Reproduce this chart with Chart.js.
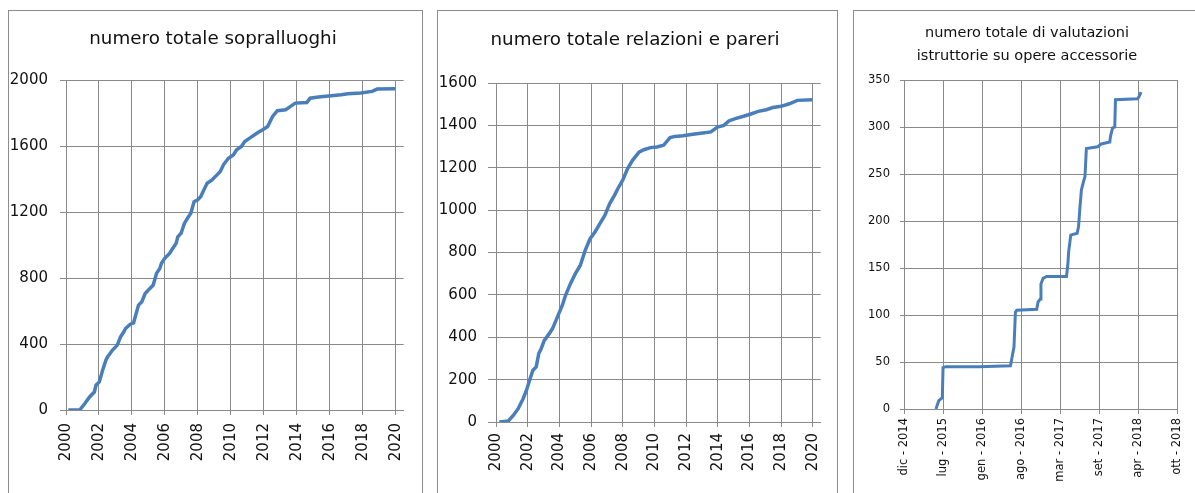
<!DOCTYPE html>
<html>
<head>
<meta charset="utf-8">
<script src="https://cdn.jsdelivr.net/npm/chart.js@4/dist/chart.umd.min.js"></script>
<style>
  body { margin: 0; background: #fff; width: 1195px; height: 493px; overflow: hidden; position: relative; }
  .box { position: absolute; border: 1px solid #8c8c8c; border-bottom: none; }
  canvas { position: absolute; }
</style>
</head>
<body>
<div class="box" style="left:8px;top:10px;width:413px;height:490px"></div>
<div class="box" style="left:437px;top:10px;width:399px;height:490px"></div>
<div class="box" style="left:853px;top:10px;width:350px;height:490px"></div>
<canvas id="c1" style="left:8px;top:10px" width="414" height="483"></canvas>
<canvas id="c2" style="left:437px;top:10px" width="400" height="483"></canvas>
<canvas id="c3" style="left:853px;top:10px" width="342" height="483"></canvas>
<script>
// numero totale sopralluoghi
const sopralluoghiAnni = [2000.14, 2000.83, 2001.13, 2001.43, 2001.72, 2001.82, 2002.02, 2002.22, 2002.42, 2002.52,
  2002.81, 2003.11, 2003.31, 2003.51, 2003.61, 2003.90, 2004.10, 2004.20, 2004.40, 2004.60, 2004.80, 2005.09,
  2005.29, 2005.49, 2005.69, 2005.79, 2005.99, 2006.28, 2006.48, 2006.68, 2006.78, 2006.98, 2007.18, 2007.37,
  2007.57, 2007.77, 2007.97, 2008.17, 2008.36, 2008.56, 2008.86, 2009.16, 2009.36, 2009.55, 2009.85, 2010.15,
  2010.35, 2010.64, 2010.84, 2011.14, 2011.44, 2011.64, 2011.93, 2012.23, 2012.53, 2012.82, 2013.32, 2013.62,
  2013.91, 2014.61, 2014.81, 2015.20, 2015.60, 2016.10, 2016.69, 2017.09, 2017.88, 2018.57, 2018.87, 2019.96];
const sopralluoghiTotale = [0, 0, 38, 79, 109, 150, 170, 241, 302, 322,
  362, 393, 443, 474, 494, 520, 528, 565, 636, 656, 706, 737,
  757, 828, 858, 889, 919, 949, 980, 1010, 1050, 1071, 1131, 1162,
  1192, 1263, 1273, 1293, 1334, 1374, 1395, 1425, 1445, 1486, 1526, 1546,
  1577, 1597, 1627, 1648, 1668, 1682, 1698, 1718, 1779, 1814, 1820, 1840,
  1860, 1864, 1890, 1896, 1900, 1905, 1911, 1917, 1921, 1931, 1945, 1947];

// numero totale relazioni e pareri
const relazioniAnni = [2000.21, 2000.78, 2001.09, 2001.40, 2001.71, 2001.92, 2002.12, 2002.33, 2002.54, 2002.70,
  2002.85, 2003.05, 2003.36, 2003.57, 2003.88, 2004.19, 2004.39, 2004.70, 2005.01, 2005.32, 2005.63, 2005.94,
  2006.25, 2006.56, 2006.87, 2007.18, 2007.48, 2007.69, 2008.00, 2008.31, 2008.62, 2009.03, 2009.34, 2009.75,
  2010.16, 2010.58, 2010.99, 2011.30, 2011.81, 2012.43, 2013.05, 2013.57, 2013.98, 2014.39, 2014.70, 2015.11,
  2015.63, 2016.14, 2016.56, 2017.07, 2017.48, 2018.00, 2018.52, 2019.03, 2019.96];
const relazioniTotale = [0, 5, 31, 63, 110, 149, 197, 244, 260, 323,
  346, 385, 417, 441, 496, 551, 598, 653, 700, 739, 810, 865,
  897, 936, 975, 1031, 1070, 1101, 1141, 1196, 1235, 1274, 1285, 1295,
  1298, 1306, 1342, 1348, 1351, 1358, 1364, 1369, 1392, 1400, 1421, 1432,
  1443, 1455, 1466, 1474, 1484, 1490, 1502, 1518, 1521];

const anniTicks = [2000, 2002, 2004, 2006, 2008, 2010, 2012, 2014, 2016, 2018, 2020];

// numero totale di valutazioni istruttorie su opere accessorie
const valutazioniData = [2015.42, 2015.46, 2015.51, 2015.52, 2015.56, 2016.03, 2016.47, 2016.49, 2016.52, 2016.54,
  2016.56, 2016.84, 2016.86, 2016.89, 2016.90, 2016.93, 2016.98, 2017.26, 2017.28, 2017.29, 2017.32, 2017.41,
  2017.43, 2017.45, 2017.47, 2017.50, 2017.52, 2017.54, 2017.70, 2017.75, 2017.87, 2017.88, 2017.91, 2017.94,
  2017.95, 2018.26, 2018.28, 2018.31];
const valutazioniTotale = [0, 9, 12, 44, 45, 45, 46, 54, 66, 103,
  105, 106, 114, 117, 133, 139, 141, 141, 155, 167, 185, 187,
  194, 215, 233, 242, 247, 277, 279, 282, 284, 290, 299, 300,
  329, 330, 332, 337];
const valutazioniTickPos = [2014.97, 2015.52, 2016.07, 2016.62, 2017.17, 2017.72, 2018.27, 2018.82];
const valutazioniTickLabels = ['dic - 2014', 'lug - 2015', 'gen - 2016', 'ago - 2016',
  'mar - 2017', 'set - 2017', 'apr - 2018', 'ott - 2018'];

const gridColor = '#8a8a8a';
const lineColor = '#4a7ebb';
const textColor = '#111';
const fontFamily = '"DejaVu Sans", Verdana, sans-serif';

// title drawn at a fixed centre, the built-in one centres on the whole box
const panelTitle = {
  id: 'panelTitle',
  afterDraw(chart, args, opts) {
    const ctx = chart.ctx;
    ctx.save();
    ctx.font = opts.size + 'px ' + fontFamily;
    ctx.fillStyle = textColor;
    ctx.textAlign = 'center';
    ctx.textBaseline = 'middle';
    opts.lines.forEach((line, i) => ctx.fillText(line, opts.x, opts.y + i * opts.gap));
    ctx.restore();
  },
};

function toPoints(xs, ys) {
  return xs.map((x, i) => ({ x: x, y: ys[i] }));
}

function makeChart(id, opt) {
  const ctx = document.getElementById(id);
  return new Chart(ctx, {
    type: 'line',
    data: {
      datasets: [{
        data: toPoints(opt.xs, opt.ys),
        borderColor: lineColor,
        borderWidth: opt.lineWidth,
        pointRadius: 0,
        tension: 0,
        fill: false,
      }],
    },
    plugins: [panelTitle],
    options: {
      responsive: false,
      animation: false,
      events: [],
      layout: { padding: { left: 0, right: opt.padRight, top: opt.padTop, bottom: 0 } },
      plugins: {
        legend: { display: false },
        tooltip: { enabled: false },
        panelTitle: { lines: opt.title, size: opt.titleSize, x: opt.titleX, y: opt.titleY, gap: opt.titleGap },
      },
      scales: {
        x: {
          type: 'linear',
          min: opt.xMin,
          max: opt.xMax,
          afterBuildTicks: (axis) => { axis.ticks = opt.xTicks.map((v) => ({ value: v })); },
          afterFit: (axis) => { axis.height = opt.xHeight; },
          grid: { color: gridColor, lineWidth: 1, tickLength: opt.xTickLen },
          border: { display: true, color: gridColor },
          ticks: {
            autoSkip: false,
            minRotation: 90,
            maxRotation: 90,
            padding: opt.xPad,
            color: textColor,
            font: { family: fontFamily, size: opt.tickSize },
            callback: opt.xLabel,
          },
        },
        y: {
          min: 0,
          max: opt.yMax,
          afterFit: (axis) => { axis.width = opt.yWidth; },
          grid: { color: gridColor, lineWidth: 1, tickLength: opt.yTickLen },
          border: { display: true, color: gridColor },
          ticks: {
            stepSize: opt.yStep,
            padding: opt.yPad,
            color: textColor,
            font: { family: fontFamily, size: opt.tickSize },
            callback: (v) => String(v),
          },
        },
      },
    },
  });
}

makeChart('c1', {
  xs: sopralluoghiAnni, ys: sopralluoghiTotale,
  title: ['numero totale sopralluoghi'], titleSize: 18.3, titleX: 205, titleY: 29, titleGap: 0,
  padTop: 70, padRight: 11,
  xMin: 2000, xMax: 2020.48, xTicks: anniTicks, xLabel: (v) => String(v),
  xHeight: 83, xTickLen: 5, xPad: 8,
  yMax: 2000, yStep: 400, yWidth: 58, yTickLen: 6, yPad: 12,
  tickSize: 15, lineWidth: 3.5,
});

makeChart('c2', {
  xs: relazioniAnni, ys: relazioniTotale,
  title: ['numero totale relazioni e pareri'], titleSize: 18.3, titleX: 198, titleY: 30.5, titleGap: 0,
  padTop: 73, padRight: 10,
  xMin: 2000, xMax: 2020.5, xTicks: anniTicks, xLabel: (v) => String(v),
  xHeight: 71, xTickLen: 5, xPad: 6,
  yMax: 1600, yStep: 200, yWidth: 59, yTickLen: 8, yPad: 11,
  tickSize: 15, lineWidth: 3.5,
});

makeChart('c3', {
  xs: valutazioniData, ys: valutazioniTotale,
  title: ['numero totale di valutazioni', 'istruttorie su opere accessorie'],
  titleSize: 14.5, titleX: 174, titleY: 23.5, titleGap: 23,
  padTop: 70, padRight: 15,
  xMin: valutazioniTickPos[0], xMax: valutazioniTickPos[valutazioniTickPos.length - 1],
  xTicks: valutazioniTickPos,
  xLabel: (v) => valutazioniTickLabels[valutazioniTickPos.indexOf(v)],
  xHeight: 84, xTickLen: 5, xPad: 4,
  yMax: 350, yStep: 50, yWidth: 51, yTickLen: 4, yPad: 10,
  tickSize: 11.5, lineWidth: 3,
});
</script>
</body>
</html>
